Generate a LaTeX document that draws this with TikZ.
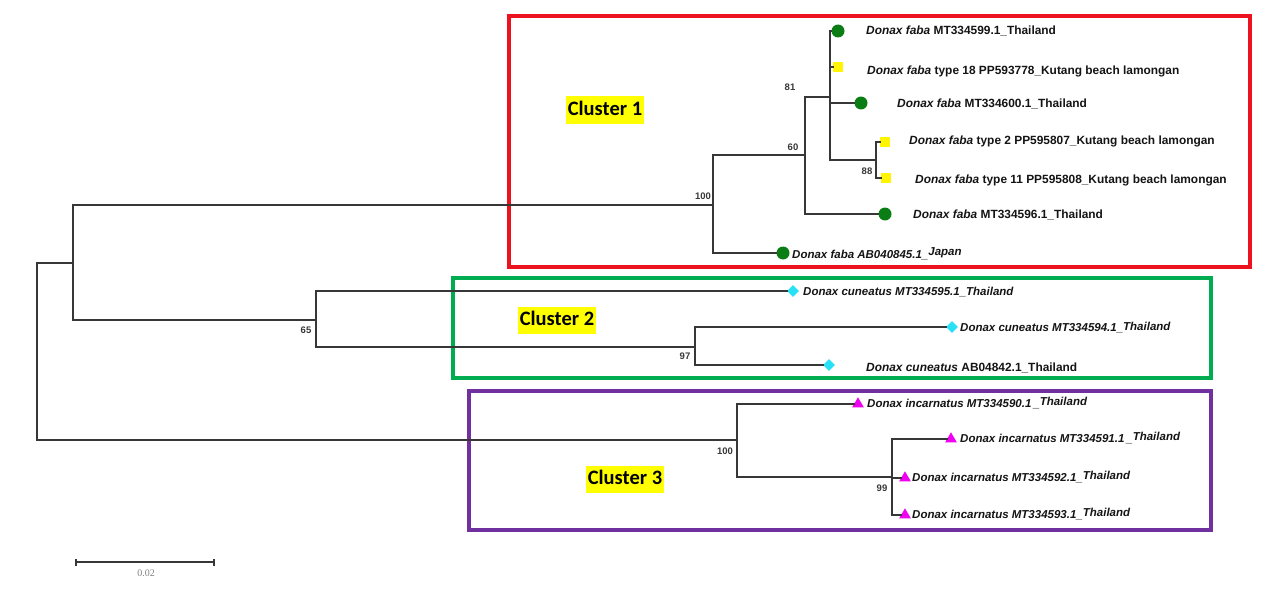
\documentclass[tikz,border=0pt]{standalone}
\usepackage{fontspec}
\setmainfont{Liberation Sans}
\newfontfamily\clusterfont{Carlito}
\newfontfamily\scalefont{Liberation Serif}
\usetikzlibrary{shapes.geometric}
\definecolor{treec}{RGB}{55,55,55}
\definecolor{redbox}{RGB}{235,20,30}
\definecolor{greenbox}{RGB}{0,172,80}
\definecolor{purplebox}{RGB}{112,48,160}
\definecolor{dgreen}{RGB}{10,125,20}
\definecolor{yel}{RGB}{255,245,0}
\definecolor{cyanm}{RGB}{40,225,245}
\definecolor{magm}{RGB}{240,0,240}
\definecolor{hl}{RGB}{255,255,0}
\definecolor{txt}{RGB}{20,20,20}
\newcommand{\spn}[1]{\textbf{\textit{#1}}}
\newcommand{\upr}[1]{\raisebox{2.3pt}{#1}}
\begin{document}
\begin{tikzpicture}[x=1pt,y=-1pt,
  br/.style={draw=treec,line width=1.4pt,line cap=rect},
  box/.style={line width=3.4pt},
  circm/.style={circle,fill=dgreen,minimum size=13pt,inner sep=0pt},
  sqm/.style={rectangle,fill=yel,minimum size=10pt,inner sep=0pt},
  diam/.style={diamond,fill=cyanm,minimum size=12pt,inner sep=0pt},
  trim/.style={regular polygon,regular polygon sides=3,fill=magm,minimum size=13.5pt,inner sep=0pt},
  lab/.style={anchor=base west,inner sep=0pt,text=txt,font=\fontsize{11.9}{14}\selectfont\bfseries},
  labi/.style={anchor=base west,inner sep=0pt,text=txt,font=\fontsize{11.5}{14}\selectfont\bfseries\itshape},
  bs/.style={inner sep=0pt,text=treec,font=\fontsize{9.5}{11}\selectfont\bfseries},
  clus/.style={fill=hl,inner xsep=2pt,inner ysep=0pt,text height=16pt,text depth=6pt,minimum height=27pt,font=\fontsize{20.5}{24}\clusterfont\bfseries}
]
\useasboundingbox (0,0) rectangle (1270,594);

% cluster boxes
\draw[box,draw=redbox] (509,16) rectangle (1250,267);
\draw[box,draw=greenbox] (453,278) rectangle (1211,378);
\draw[box,draw=purplebox] (469,391) rectangle (1211,530);

% internal coordinates
\coordinate (root) at (37,351);
\coordinate (nA) at (73,263);
\coordinate (nC1) at (713,205);
\coordinate (n60) at (805,155);
\coordinate (n81) at (830,97);
\coordinate (n88) at (876,160);
\coordinate (nB) at (316,320);
\coordinate (n97) at (695,347);
\coordinate (nC3) at (737,440);
\coordinate (n99) at (892,477);

% leaf markers
\node[circm] (m1) at (838,31) {};
\node[sqm] (m2) at (838,67) {};
\node[circm] (m3) at (861,103) {};
\node[sqm] (m4) at (885,142) {};
\node[sqm] (m5) at (886,178) {};
\node[circm] (m6) at (885,214) {};
\node[circm] (m7) at (783,253) {};
\node[diam] (m8) at (793,291) {};
\node[diam] (m9) at (952,327) {};
\node[diam] (m10) at (829,365) {};
\node[trim] (m11) at (858,404) {};
\node[trim] (m12) at (951,439) {};
\node[trim] (m13) at (905,478) {};
\node[trim] (m14) at (905,515) {};

% branches
\draw[br] (root) |- (nA);
\draw[br] (root) |- (nC3);
\draw[br] (nA) |- (nC1);
\draw[br] (nA) |- (nB);
\draw[br] (nC1) |- (n60);
\draw[br] (nC1) |- (m7.west);
\draw[br] (n60) |- (n81);
\draw[br] (n60) |- (m6.west);
\draw[br] (n81) |- (m1.west);
\draw[br] (n81) |- (m2.west);
\draw[br] (n81) |- (m3.west);
\draw[br] (n81) |- (n88);
\draw[br] (n88) |- (m4.west);
\draw[br] (n88) |- (m5.west);
\draw[br] (nB) |- (m8.west);
\draw[br] (nB) |- (n97);
\draw[br] (n97) |- (m9.west);
\draw[br] (n97) |- (m10.west);
\draw[br] (nC3) |- (m11.west);
\draw[br] (nC3) |- (n99);
\draw[br] (n99) |- (m12.west);
\draw[br] (n99) |- (m13.west);
\draw[br] (n99) |- (m14.west);

% bootstrap values
\node[bs] (b81) at (790,87) {81};
\node[bs] (b60) at (793,147) {60};
\node[bs] (b88) at (867,171) {88};
\node[bs] (b100a) at (703,196) {100};
\node[bs] (b65) at (306,330) {65};
\node[bs] (b97) at (685,356) {97};
\node[bs] (b100b) at (725,451) {100};
\node[bs] (b99) at (882,488) {99};

% leaf labels
\node[lab] (l1) at (866,34.5) {\spn{Donax faba} MT334599.1\_Thailand};
\node[lab] (l2) at (867,75) {\spn{Donax faba} type 18 PP593778\_Kutang beach lamongan};
\node[lab] (l3) at (897,107) {\spn{Donax faba} MT334600.1\_Thailand};
\node[lab] (l4) at (909,144.5) {\spn{Donax faba} type 2 PP595807\_Kutang beach lamongan};
\node[lab] (l5) at (915,183.5) {\spn{Donax faba} type 11 PP595808\_Kutang beach lamongan};
\node[lab] (l6) at (913,218.5) {\spn{Donax faba} MT334596.1\_Thailand};
\node[labi] (l7) at (792,258) {Donax faba AB040845.1\_\upr{Japan}};
\node[labi] (l8) at (803,295) {Donax cuneatus MT334595.1\_Thailand};
\node[labi] (l9) at (960,331) {Donax cuneatus MT334594.1\_\raisebox{1pt}{Thailand}};
\node[lab] (l10) at (866,371) {\spn{Donax cuneatus} AB04842.1\_Thailand};
\node[labi] (l11) at (867,407.5) {Donax incarnatus MT334590.1\,\_\upr{Thailand}};
\node[labi] (l12) at (960,442.5) {Donax incarnatus MT334591.1\,\_\upr{Thailand}};
\node[labi] (l13) at (912,481.5) {Donax incarnatus MT334592.1\_\upr{Thailand}};
\node[labi] (l14) at (912,518.5) {Donax incarnatus MT334593.1\_\upr{Thailand}};

% cluster labels
\node[clus] (c1) at (605,110) {Cluster 1};
\node[clus] (c2) at (557,320) {Cluster 2};
\node[clus] (c3) at (625,479) {Cluster 3};

% scale bar
\coordinate (sb1) at (76,562);
\coordinate (sb2) at (214,562);
\draw[br,line cap=butt] (sb1) -- (sb2);
\draw[br,line cap=butt] ([yshift=-3.5pt]sb1) -- ([yshift=3.5pt]sb1);
\draw[br,line cap=butt] ([yshift=-3.5pt]sb2) -- ([yshift=3.5pt]sb2);
\node[inner sep=0pt,text=gray,font=\fontsize{10}{11}\scalefont] (sbl) at (146,573) {0.02};
\end{tikzpicture}
\end{document}
